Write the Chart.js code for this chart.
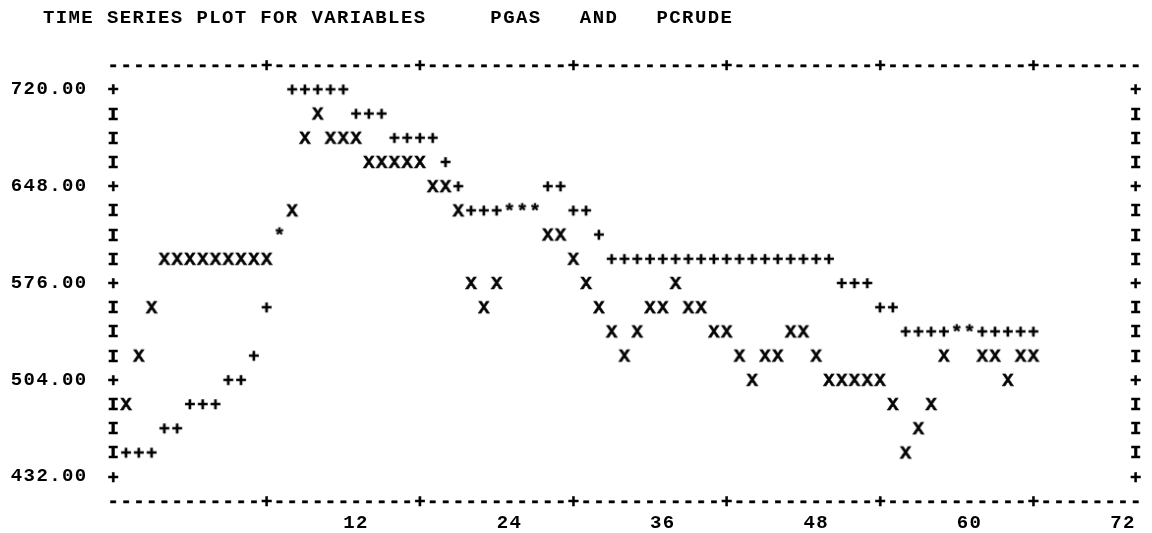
<!DOCTYPE html>
<html>
<head>
<meta charset="utf-8">
<script src="https://cdn.jsdelivr.net/npm/chart.js@4"></script>
<style>
html, body { margin: 0; padding: 0; background: #ffffff; }
#wrap { width: 1152px; height: 533px; }
canvas { display: block; }
</style>
</head>
<body>
<div id="wrap"><canvas id="c" width="1152" height="533"></canvas></div>
<script>
// ---------- data ----------
const titleText = '   TIME SERIES PLOT FOR VARIABLES     PGAS   AND   PCRUDE';

const obs = [1,2,3,4,5,6,7,8,9,10,11,12,13,14,15,16,17,18,19,20,21,22,23,24,
             25,26,27,28,29,30,31,32,33,34,35,36,37,38,39,40,41,42,43,44,45,46,47,48,
             49,50,51,52,53,54,55,56,57,58,59,60,61,62,63,64,65,66,67,68,69,70,71,72];

const pgas = [486,522,558,
              594,594,594,594,594,594,594,594,594,
              612,630,684,702,
              684,684,684,
              666,666,666,666,666,
              648,648,
              630,576,558,576,
              630,630,630,
              612,612,
              594,576,558,540,522,540,
              558,558,576,558,558,
              540,540,522,504,522,522,
              540,540,522,
              504,504,504,504,504,
              486,450,468,486,522,
              540,540,522,522,504,522,522];

const pcrude = [450,450,450,
                468,468,
                486,486,486,
                504,504,
                522,558,612,
                720,720,720,720,720,
                702,702,702,
                684,684,684,684,
                666,648,
                630,630,630,630,630,630,
                648,648,
                630,630,
                612,
                594,594,594,594,594,594,594,594,594,594,594,594,594,594,594,594,594,594,
                576,576,576,
                558,558,
                540,540,540,540,540,540,540,540,540,540,540];

const yTickValues = [720, 648, 576, 504, 432];
const yTickLabels = ['720.00', '648.00', '576.00', '504.00', '432.00'];
const xTickValues = [12, 24, 36, 48, 60, 72];
const xTickLabels = ['12', '24', '36', '48', '60', '72'];

// ---------- styling ----------
const FAMILY = '"Liberation Mono", "DejaVu Sans Mono", monospace';
const FS = 19;
const PITCH = 12.78;
const SPACING = PITCH - FS * 0.6;
const FONTSTR = 'bold ' + FS + 'px ' + FAMILY;

const mctx = document.createElement('canvas').getContext('2d');
mctx.font = FONTSTR;
const CAP = mctx.measureText('X').actualBoundingBoxAscent || 12;

function glyph(ch) {
  const c = document.createElement('canvas');
  c.width = 16; c.height = 26;
  const g = c.getContext('2d');
  g.font = FONTSTR;
  g.fillStyle = '#000';
  g.strokeStyle = '#000';
  g.lineWidth = 0.5;
  g.textAlign = 'center';
  g.textBaseline = 'alphabetic';
  g.fillText(ch, 8, 13 + CAP / 2);
  g.strokeText(ch, 8, 13 + CAP / 2);
  return c;
}
const imgX = glyph('X');
const imgPlus = glyph('+');
const imgStar = glyph('*');

const same = (i) => i !== undefined && pgas[i] === pcrude[i];

const framePlugin = {
  id: 'frame',
  beforeDraw(chart) {
    const ctx = chart.ctx;
    ctx.save();
    ctx.fillStyle = '#ffffff';
    ctx.fillRect(0, 0, chart.width, chart.height);
    ctx.restore();
    ctx.letterSpacing = SPACING + 'px';
  },
  afterDatasetsDraw(chart) {
    const ctx = chart.ctx;
    const x = chart.scales.x, y = chart.scales.y;
    ctx.save();
    ctx.letterSpacing = '0px';
    ctx.font = FONTSTR;
    ctx.fillStyle = '#000';
    ctx.strokeStyle = '#000';
    ctx.lineWidth = 0.5;
    ctx.textAlign = 'center';
    ctx.textBaseline = 'alphabetic';
    const put = (ch, col, val) => {
      const px = x.getPixelForValue(col), py = y.getPixelForValue(val) + CAP / 2;
      ctx.fillText(ch, px, py);
      ctx.strokeText(ch, px, py);
    };
    const top = yTickValues[0], bottom = yTickValues[yTickValues.length - 1];
    const rightCol = 80;
    for (let v = bottom; v <= top; v += 18) {
      const ch = yTickValues.includes(v) ? '+' : 'I';
      put(ch, 0, v);
      put(ch, rightCol, v);
    }
    for (let c = 0; c <= rightCol; c++) {
      const ch = xTickValues.includes(c) ? '+' : '-';
      put(ch, c, top + 18);
      put(ch, c, bottom - 18);
    }
    ctx.restore();
  }
};

const tickFont = { family: FAMILY, size: FS, weight: 'bold' };

new Chart(document.getElementById('c'), {
  type: 'scatter',
  data: {
    datasets: [
      {
        label: 'PGAS',
        data: obs.map((t, i) => ({ x: t, y: pgas[i] })),
        showLine: false,
        clip: false,
        pointStyle: (ctx) => same(ctx.dataIndex) ? imgStar : imgX,
        pointRadius: 6,
        pointHoverRadius: 6
      },
      {
        label: 'PCRUDE',
        data: obs.map((t, i) => ({ x: t, y: pcrude[i] })),
        showLine: false,
        clip: false,
        pointStyle: imgPlus,
        pointRadius: (ctx) => same(ctx.dataIndex) ? 0 : 6,
        pointHoverRadius: (ctx) => same(ctx.dataIndex) ? 0 : 6
      }
    ]
  },
  options: {
    responsive: false,
    animation: false,
    events: [],
    layout: { padding: { left: 4.66, right: 9.91, top: 0, bottom: 0 } },
    plugins: {
      legend: { display: false },
      tooltip: { enabled: false },
      title: {
        display: true,
        text: titleText,
        align: 'start',
        color: '#000',
        font: { family: FAMILY, size: FS, weight: 'bold', lineHeight: 1.2 },
        padding: { top: 6.4, bottom: 60.1 }
      }
    },
    scales: {
      x: { type: 'linear', min: -0.5, max: 80.5, display: false },
      x2: {
        type: 'linear', position: 'bottom', min: -7.5, max: 73.5,
        afterBuildTicks: (s) => { s.ticks = xTickValues.map(v => ({ value: v })); },
        afterFit: (s) => { s.height = 56.34; s.paddingLeft = 0; s.paddingRight = 0; },
        grid: { display: false, drawTicks: false },
        border: { display: false },
        ticks: {
          font: tickFont, color: '#000', padding: 35.4,
          maxRotation: 0, minRotation: 0, autoSkip: false,
          callback: (v) => xTickLabels[xTickValues.indexOf(v)]
        }
      },
      y: {
        type: 'linear', min: 432, max: 720,
        afterBuildTicks: (s) => { s.ticks = yTickValues.map(v => ({ value: v })); },
        afterFit: (s) => { s.width = 102.25; s.paddingTop = 0; s.paddingBottom = 0; },
        grid: { display: false, drawTicks: false },
        border: { display: false },
        ticks: {
          font: tickFont, color: '#000', padding: 19.4, autoSkip: false,
          callback: (v) => yTickLabels[yTickValues.indexOf(v)]
        }
      }
    }
  },
  plugins: [framePlugin]
});
</script>
</body>
</html>
